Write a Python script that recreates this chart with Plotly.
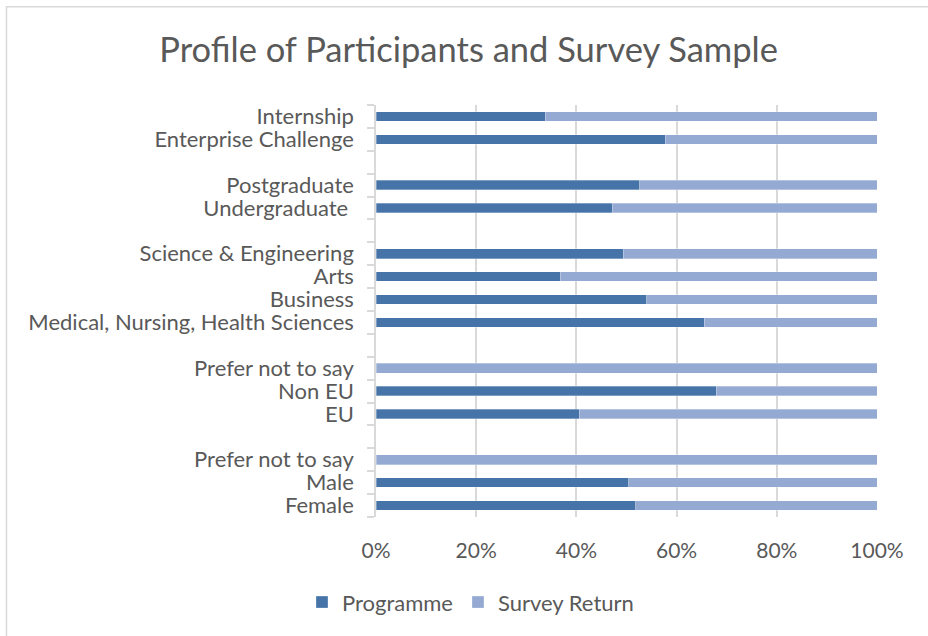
import plotly.graph_objects as go

categories = [
    "Female", "Male", "Prefer not to say", " ",
    "EU", "Non EU", "Prefer not to say\u200b", "  ",
    "Medical, Nursing, Health Sciences", "Business", "Arts", "Science & Engineering", "   ",
    "Undergraduate\u00a0", "Postgraduate", "    ",
    "Enterprise Challenge", "Internship",
]
programme = [51.8, 50.4, 0, None,
             40.6, 67.9, 0, None,
             65.5, 54.0, 36.8, 49.4, None,
             47.2, 52.6, None,
             57.7, 33.8]
survey_return = [48.2, 49.6, 100, None,
                 59.4, 32.1, 100, None,
                 34.5, 46.0, 63.2, 50.6, None,
                 52.8, 47.4, None,
                 42.3, 66.2]
x_ticks = [0, 20, 40, 60, 80, 100]
x_tick_labels = ["0%", "20%", "40%", "60%", "80%", "100%"]

FONT = "Lato"
TXT = "#595959"

fig = go.Figure()
fig.add_trace(go.Bar(
    y=categories, x=programme, name="Programme", orientation="h",
    marker=dict(color="#4674A8", line=dict(color="rgba(255,255,255,0.5)", width=0.6)),
    width=0.42,
))
fig.add_trace(go.Bar(
    y=categories, x=survey_return, name="Survey Return", orientation="h",
    marker=dict(color="#94AAD2", line=dict(color="rgba(255,255,255,0.5)", width=0.6)),
    width=0.42,
))

fig.update_layout(
    barmode="stack",
    width=928, height=636,
    margin=dict(l=376, r=51, t=105, b=119, autoexpand=False),
    paper_bgcolor="white", plot_bgcolor="white",
    font=dict(family=FONT, color=TXT, size=22),
    title=dict(text="Profile of Participants and Survey Sample",
               x=0.505, xref="container", xanchor="center",
               y=1 - 50 / 636, yref="container", yanchor="middle",
               font=dict(family=FONT, size=34.5, color=TXT)),
    showlegend=True,
    legend=dict(orientation="h", x=0.507, xref="container", xanchor="center",
                y=-0.207, yanchor="middle", font=dict(size=22, color=TXT),
                traceorder="normal", itemwidth=30),
    bargap=0.58,
)
fig.update_xaxes(
    range=[0, 100], tickvals=x_ticks, ticktext=x_tick_labels,
    showgrid=True, gridcolor="#D9D9D9", gridwidth=1.5,
    zeroline=False, showline=False, ticks="", automargin=False,
    ticklabelstandoff=19, tickfont=dict(size=21, color=TXT),
)
fig.update_yaxes(
    type="category", categoryorder="array", categoryarray=categories,
    tickmode="linear", tick0=0, dtick=1,
    tickson="boundaries", ticks="outside", ticklen=7, tickcolor="#D9D9D9", tickwidth=1.5,
    showline=True, linecolor="#D9D9D9", linewidth=1.5, automargin=False,
    showgrid=False, ticklabelstandoff=16, tickfont=dict(size=22, color=TXT),
)

# outer chart border (top and left edges visible)
fig.add_shape(type="rect", xref="paper", yref="paper",
              x0=(6.5 - 376) / 501, x1=(940 - 376) / 501,
              y0=(516 - 650) / 411, y1=(516 - 7) / 411,
              line=dict(color="#D9D9D9", width=1.5), fillcolor="rgba(0,0,0,0)", layer="below")

fig.write_html("out.html", config={"displayModeBar": False},
               post_script="document.body.style.margin='0';")
